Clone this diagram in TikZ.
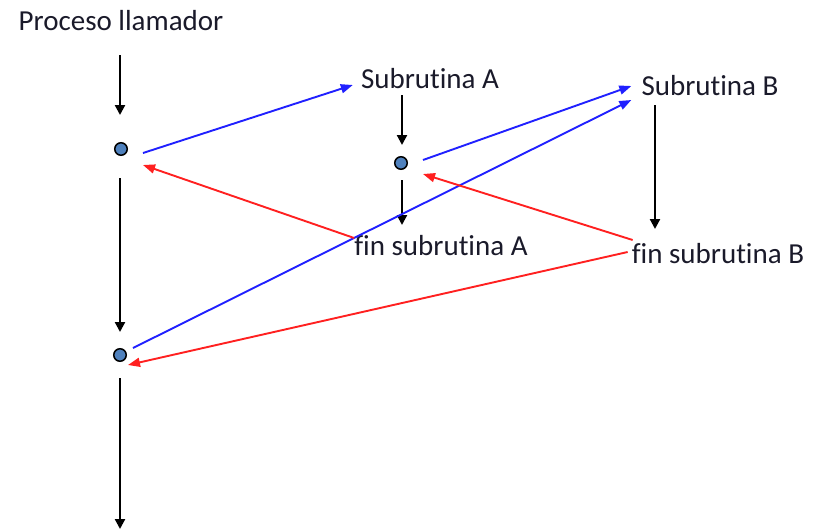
\documentclass[tikz,border=0pt]{standalone}
\usepackage{fontspec}
\setmainfont{Carlito}[Ligatures={NoCommon}]
\usetikzlibrary{arrows.meta}
\definecolor{txtc}{HTML}{1A1A2A}
\definecolor{dotfill}{HTML}{4F81BD}
\definecolor{callc}{HTML}{2020FF}
\definecolor{retc}{HTML}{FF2020}
\tikzset{
  lbl/.style={inner sep=0pt, text=txtc, font=\fontsize{29}{32}\selectfont},
  pt/.style={circle, draw=black, line width=1.5pt, fill=dotfill, minimum size=12.5pt, inner sep=0pt},
  flow/.style={draw=black, line width=2.2pt, -{Triangle[length=10pt,width=10pt]}},
  callarr/.style={draw=callc, line width=1.9pt, -{Triangle[length=12pt,width=9pt]}},
  retarr/.style={draw=retc, line width=1.9pt, -{Triangle[length=12pt,width=9pt]}}
}
\begin{document}
\begin{tikzpicture}[x=1pt,y=-1pt]
\useasboundingbox (0,0) rectangle (819,531);
% texts
\node[lbl] (pl) at (121,21) {Proceso llamador};
\node[lbl] (sa) at (430,79) {Subrutina A};
\node[lbl] (fa) at (441,246) {fin subrutina A};
\node[lbl] (sb) at (710,86) {Subrutina B};
\node[lbl] (fb) at (718,254) {fin subrutina B};
% dots
\node[pt] (d1) at (121,149) {};
\node[pt] (d2) at (120,355) {};
\node[pt] (d3) at (401,163) {};
% helper coordinates
\coordinate (p0) at (120,55);
\coordinate (bot) at (120,529);
\coordinate (a0) at (402,95);
\coordinate (a1) at (402,225);
\coordinate (b0) at (655,105);
\coordinate (b1) at (655,229);
% black flow
\draw[flow] (p0) -- ([xshift=-1pt,yshift=27pt]d1.north);
\draw[flow] ([xshift=-1pt,yshift=-22pt]d1.south) -- ([yshift=16pt]d2.north);
\draw[flow] ([yshift=-16pt]d2.south) -- (bot);
\draw[flow] (a0) -- ([xshift=1pt,yshift=11pt]d3.north);
\draw[flow] ([xshift=1pt,yshift=-10pt]d3.south) -- (a1);
\draw[flow] (b0) -- (b1);
% calls (blue)
\draw[callarr] ([xshift=15pt,yshift=-4pt]d1.east) -- ([xshift=-8pt,yshift=-6pt]sa.west);
\draw[callarr] ([xshift=15pt,yshift=3pt]d3.east) -- ([xshift=-10pt,yshift=0pt]sb.west);
\draw[callarr] ([xshift=6pt,yshift=7pt]d2.east) -- ([xshift=-10pt,yshift=-14pt]sb.west);
% returns (red)
\draw[retarr] ([xshift=0pt,yshift=8pt]fa.west) -- ([xshift=15pt,yshift=-16pt]d1.east);
\draw[retarr] ([xshift=1pt,yshift=14pt]fb.west) -- ([xshift=15pt,yshift=-11pt]d3.east);
\draw[retarr] ([xshift=-4pt,yshift=2pt]fb.west) -- ([xshift=1pt,yshift=-10pt]d2.east);
\end{tikzpicture}
\end{document}
